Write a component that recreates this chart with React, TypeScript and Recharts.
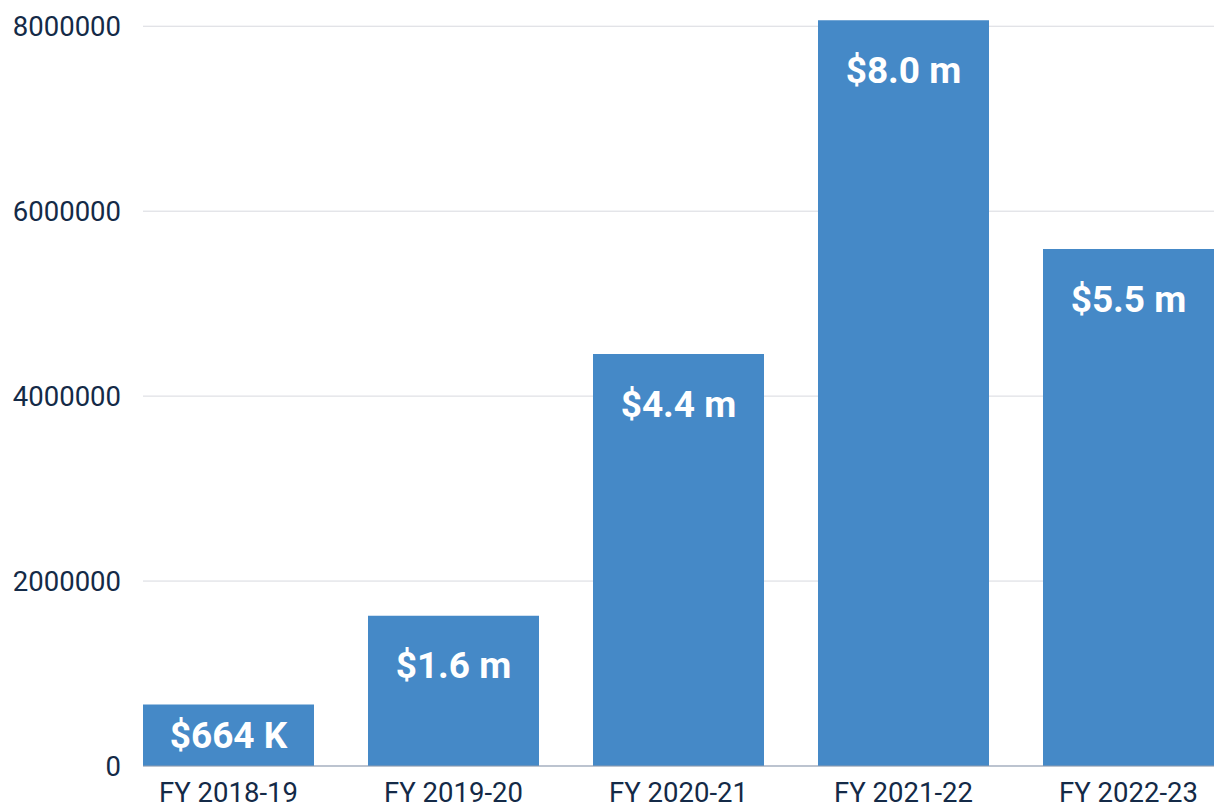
import React from 'react';
import { BarChart, Bar, XAxis, YAxis, CartesianGrid, LabelList } from 'recharts';

const categories = ['FY 2018-19', 'FY 2019-20', 'FY 2020-21', 'FY 2021-22', 'FY 2022-23'];
const values = [664000, 1625000, 4455000, 8065000, 5590000];
const valueLabels = ['$664 K', '$1.6 m', '$4.4 m', '$8.0 m', '$5.5 m'];
const yTicks = [0, 2000000, 4000000, 6000000, 8000000];

const data = categories.map((c, i) => ({ name: c, value: values[i], label: valueLabels[i] }));

const FONT = 'Roboto, "DejaVu Sans", sans-serif';
const TEXT_COLOR = '#142a47';

const BarLabel = (props: any) => {
  const { x, y, width, height, index } = props;
  const cy = Math.min(y + 50, y + height / 2);
  return (
    <text
      x={x + width / 2}
      y={cy}
      textAnchor="middle"
      dominantBaseline="central"
      fill="#ffffff"
      fontFamily={FONT}
      fontWeight={700}
      fontSize={37}
    >
      {valueLabels[index]}
    </text>
  );
};

export default function App() {
  return (
    <div style={{ position: 'absolute', left: 0, top: 0, background: '#fff' }}>
      <BarChart
        width={1217}
        height={809}
        data={data}
        margin={{ top: 17, right: 3, bottom: 0, left: 0 }}
        barCategoryGap={27}
      >
        <CartesianGrid
          vertical={false}
          horizontalValues={yTicks}
          stroke="#d8d9df"
          strokeWidth={1}
        />
        <XAxis
          dataKey="name"
          padding={{ left: -27, right: -27 }}
          axisLine={{ stroke: '#8d9bb0', strokeWidth: 1 }}
          tickLine={false}
          tickSize={0}
          tickMargin={16}
          height={43}
          interval={0}
          tick={{ fill: TEXT_COLOR, fontFamily: FONT, fontSize: 27.5 }}
        />
        <YAxis
          domain={[0, 8100000]}
          ticks={yTicks}
          allowDataOverflow
          axisLine={false}
          tickLine={false}
          tickSize={0}
          tickMargin={22}
          width={143}
          interval={0}
          tick={{ fill: TEXT_COLOR, fontFamily: FONT, fontSize: 27.5 }}
        />
        <Bar dataKey="value" fill="#4589c7" isAnimationActive={false}>
          <LabelList dataKey="label" content={<BarLabel />} />
        </Bar>
      </BarChart>
    </div>
  );
}
